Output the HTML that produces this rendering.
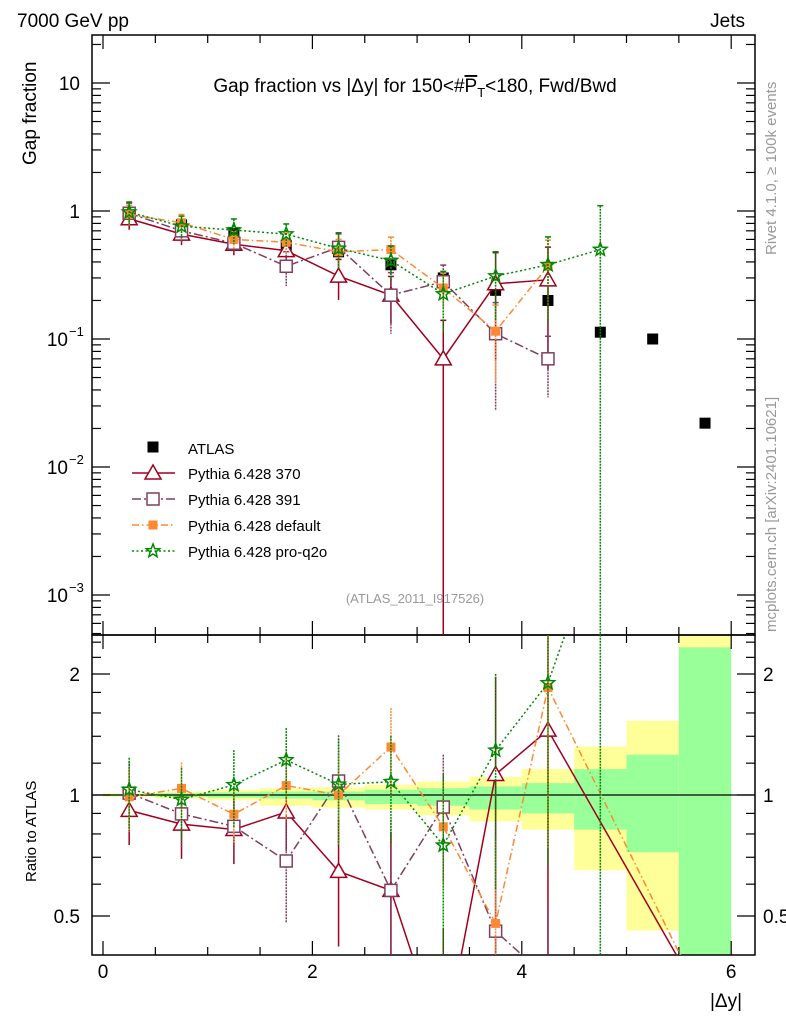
<!DOCTYPE html>
<html><head><meta charset="utf-8"><style>
html,body{margin:0;background:#fff;width:786px;height:1024px;overflow:hidden;}
svg{display:block;font-family:"Liberation Sans",sans-serif;}
</style></head><body>
<svg id="c" width="786" height="1024" viewBox="0 0 786 1024" xmlns="http://www.w3.org/2000/svg">
<defs>
<clipPath id="cm"><rect x="92" y="35" width="663" height="600"/></clipPath>
<clipPath id="cr"><rect x="92" y="635" width="663" height="320"/></clipPath>
</defs>
<g id="bands" clip-path="url(#cr)"></g>
<g id="axes"></g>
<g id="mainMarks" clip-path="url(#cm)"></g>
<g id="ratioMarks" clip-path="url(#cr)"></g>
<text x="17" y="27" font-size="19">7000 GeV pp</text>
<text x="745" y="27" font-size="19" text-anchor="end">Jets</text>
<text x="415" y="92" font-size="19" text-anchor="middle">Gap fraction vs |Δy| for 150&lt;#<tspan text-decoration="overline">P</tspan><tspan font-size="13" dy="5">T</tspan><tspan dy="-5">&lt;180, Fwd/Bwd</tspan></text>
<text x="415" y="603" font-size="13" fill="#999" text-anchor="middle">(ATLAS_2011_I917526)</text>
<text transform="translate(36,165) rotate(-90)" font-size="19">Gap fraction</text>
<text transform="translate(36,882) rotate(-90)" font-size="15">Ratio to ATLAS</text>
<text x="742" y="1007" font-size="19" text-anchor="end">|Δy|</text>
<text transform="translate(776,255) rotate(-90)" font-size="15" fill="#999">Rivet 4.1.0, ≥ 100k events</text>
<text transform="translate(776,632) rotate(-90)" font-size="15" fill="#999">mcplots.cern.ch [arXiv:2401.10621]</text>
<g id="legend"></g>
</svg>
<script>
const xCenters=[0.25,0.75,1.25,1.75,2.25,2.75,3.25,3.75,4.25,4.75,5.25,5.75];
const atlasVals=[0.95,0.78,0.67,0.54,0.48,0.38,0.30,0.24,0.20,0.113,0.10,0.022];
const p370=[0.87,0.66,0.55,0.49,0.31,0.22,0.07,0.27,0.29];
const p370Err=[0.18,0.18,0.18,0.2,0.35,0.4,1.0,0.75,0.8];
const p370RatioTail=[0.3];
const p391=[0.96,0.70,0.56,0.37,0.52,0.22,0.28,0.11,0.07];
const p391Err=[0.2,0.18,0.15,0.3,0.3,0.5,0.35,0.75,0.5];
const pDef=[0.94,0.81,0.60,0.57,0.48,0.50,0.25,0.115,0.37];
const pDefErr=[0.18,0.16,0.15,0.18,0.25,0.25,0.3,0.6,0.6];
const pDefRatioTail=[0.3];
const pQ2o=[0.98,0.76,0.71,0.66,0.51,0.41,0.225,0.31,0.38,0.50];
const pQ2oErr=[0.2,0.2,0.22,0.2,0.3,0.3,0.5,0.55,0.65,1.2];
const binEdges=[0,0.5,1,1.5,2,2.5,3,3.5,4,4.5,5,5.5,6];
const yelUp=[1.01,1.02,1.03,1.04,1.045,1.06,1.08,1.11,1.16,1.32,1.53,3.0];
const yelDn=[0.99,0.98,0.97,0.94,0.93,0.92,0.89,0.86,0.82,0.65,0.46,0.3];
const grnUp=[1.005,1.01,1.015,1.02,1.02,1.03,1.04,1.05,1.07,1.16,1.26,2.33];
const grnDn=[0.995,0.99,0.985,0.98,0.97,0.95,0.94,0.92,0.90,0.82,0.72,0.3];
const xTicks=[0,2,4,6];

const NS='http://www.w3.org/2000/svg';
const X=v=>103+104.7*v;
const Y=v=>211-128*Math.log10(v);
const R=r=>795-121*Math.log2(r);
function mk(tag,attrs,parent){const e=document.createElementNS(NS,tag);for(const k in attrs)e.setAttribute(k,attrs[k]);parent.appendChild(e);return e;}
const axes=document.getElementById('axes'),bands=document.getElementById('bands');
const mm=document.getElementById('mainMarks'),rm=document.getElementById('ratioMarks'),lg=document.getElementById('legend');

for(let i=0;i<yelUp.length;i++){
  const x0=X(binEdges[i]),x1=X(binEdges[i+1]);
  const y=mk('rect',{x:x0,y:R(yelUp[i]),width:x1-x0,height:R(yelDn[i])-R(yelUp[i]),fill:'#ffff99'},bands);
  
  
  const g=mk('rect',{x:x0,y:R(grnUp[i]),width:x1-x0,height:R(grnDn[i])-R(grnUp[i]),fill:'#99ff99'},bands);
  
  
}
mk('line',{x1:92,x2:755,y1:R(1),y2:R(1),stroke:'#000','stroke-width':1.2},bands);

mk('rect',{x:92,y:35,width:663,height:600,fill:'none',stroke:'#000','stroke-width':1.5},axes);
mk('rect',{x:92,y:635,width:663,height:320,fill:'none',stroke:'#000','stroke-width':1.5},axes);
for(let v=0;v<=6.01;v+=0.5){
  const big=Math.abs(v-Math.round(v/2)*2)<0.01;
  const L=big?14:8;
  [[635,-1],[955,-1],[35,1],[635,1]].forEach(([yy,d])=>mk('line',{x1:X(v),x2:X(v),y1:yy,y2:yy+d*L,stroke:'#000','stroke-width':1.2},axes));
}
xTicks.forEach(v=>{const t=mk('text',{x:X(v),y:978,'font-size':19,'text-anchor':'middle'},axes);t.textContent=v;

});
for(let e=-4;e<=1;e++){for(let m=1;m<10;m++){const v=m*Math.pow(10,e);const y=Y(v);if(y<35||y>635)continue;
 const L=m==1?18:9;
 mk('line',{x1:92,x2:92+L,y1:y,y2:y,stroke:'#000','stroke-width':1.2},axes);
 mk('line',{x1:755,x2:755-L,y1:y,y2:y,stroke:'#000','stroke-width':1.2},axes);}}
const mainLabels=[[10,'10',null],[1,'1',null],[0.1,'10','−1'],[0.01,'10','−2'],[0.001,'10','−3']];
mainLabels.forEach(([v,b,s])=>{const t=mk('text',{x:s?68:80,y:Y(v)+7,'font-size':19,'text-anchor':'end'},axes);t.textContent=b;
 
 
 if(s){const u=mk('text',{x:69,y:Y(v)-3,'font-size':13},axes);u.textContent=s;}});
[0.5,0.6,0.7,0.8,0.9,1,1.2,1.4,1.6,1.8,2,2.2,2.4].forEach(r=>{const y=R(r);if(y<635||y>955)return;const big=(r==0.5||r==1||r==2);const L=big?18:9;
 mk('line',{x1:92,x2:92+L,y1:y,y2:y,stroke:'#000','stroke-width':1.2},axes);
 mk('line',{x1:755,x2:755-L,y1:y,y2:y,stroke:'#000','stroke-width':1.2},axes);});
[[2,'2'],[1,'1'],[0.5,'0.5']].forEach(([r,s])=>{
 const a=mk('text',{x:80,y:R(r)+7,'font-size':19,'text-anchor':'end'},axes);a.textContent=s;
 
 
 const b=mk('text',{x:763,y:R(r)+7,'font-size':19},axes);b.textContent=s;
 
 });

function marker(type,x,y,col,parent){
 if(type=='sq') return mk('rect',{x:x-5.5,y:y-5.5,width:11,height:11,fill:'#000'},parent);
 if(type=='tri') return mk('polygon',{points:`${x},${y-8} ${x-8},${y+6} ${x+8},${y+6}`,fill:'#fff',stroke:col,'stroke-width':1.5},parent);
 if(type=='osq') return mk('rect',{x:x-6,y:y-6,width:12,height:12,fill:'#fff',stroke:col,'stroke-width':1.5},parent);
 if(type=='fsq') return mk('rect',{x:x-4.5,y:y-4.5,width:9,height:9,fill:col},parent);
 if(type=='star'){let p=[];for(let i=0;i<10;i++){const r=i%2?3:7,a=-Math.PI/2+i*Math.PI/5;p.push((x+r*Math.cos(a)).toFixed(1)+','+(y+r*Math.sin(a)).toFixed(1));}
  return mk('polygon',{points:p.join(' '),fill:'none',stroke:col,'stroke-width':1.5},parent);}
}
atlasVals.forEach((v,i)=>{const m=marker('sq',X(xCenters[i]),Y(v),'#000',mm);
 
 });
const series=[
 {name:'pythia-370',vals:p370,err:p370Err,tail:p370RatioTail,col:'#a0001e',dash:'',mk:'tri',label:'Pythia 6.428 370'},
 {name:'pythia-391',vals:p391,err:p391Err,tail:[],col:'#7f3f5f',dash:'9,3,2,3',mk:'osq',label:'Pythia 6.428 391'},
 {name:'pythia-default',vals:pDef,err:pDefErr,tail:pDefRatioTail,col:'#ff8833',dash:'7,3,1.5,3',mk:'fsq',label:'Pythia 6.428 default'},
 {name:'pythia-pro-q2o',vals:pQ2o,err:pQ2oErr,tail:[],col:'#008800',dash:'2,2.5',mk:'star',label:'Pythia 6.428 pro-q2o'}];
series.forEach(s=>{
 const mp=[],rp=[];
 s.vals.forEach((v,i)=>{const x=X(xCenters[i]);mp.push(x+','+Y(v));rp.push(x+','+R(v/atlasVals[i]));});
 s.tail.forEach((r,k)=>{rp.push(X(xCenters[xCenters.length-s.tail.length+k])+','+R(r));});
 const a=mk('polyline',{points:mp.join(' '),fill:'none',stroke:s.col,'stroke-width':1.5,'stroke-dasharray':s.dash},mm);
 
 
 const b=mk('polyline',{points:rp.join(' '),fill:'none',stroke:s.col,'stroke-width':1.5,'stroke-dasharray':s.dash},rm);
 
 
 s.vals.forEach((v,i)=>{const x=X(xCenters[i]);const e=s.err[i];
  const lo=Math.max(v*(1-e),1e-6),hi=v*(1+e);
  mk('line',{x1:x,x2:x,y1:Y(hi),y2:Y(lo),stroke:s.col,'stroke-width':1.5,'stroke-dasharray':s.dash?'2,1':''},mm);
  mk('line',{x1:x-3,x2:x+3,y1:Y(hi),y2:Y(hi),stroke:s.col,'stroke-width':1.5},mm);
  const r=v/atlasVals[i];
  mk('line',{x1:x,x2:x,y1:R(r*(1+e)),y2:R(Math.max(r*(1-e),1e-6)),stroke:s.col,'stroke-width':1.5,'stroke-dasharray':s.dash?'2,1':''},rm);
  const m1=marker(s.mk,x,Y(v),s.col,mm);
  
  
  const m2=marker(s.mk,x,R(r),s.col,rm);
  
  
 });
});
marker('sq',153,447,'#000',lg);
const lt=mk('text',{x:188,y:454,'font-size':15},lg);lt.textContent='ATLAS';


series.forEach((s,i)=>{const y=473+i*26;
 mk('line',{x1:132,x2:175,y1:y,y2:y,stroke:s.col,'stroke-width':1.5,'stroke-dasharray':s.dash},lg);
 marker(s.mk,153,y,s.col,lg);
 const t=mk('text',{x:188,y:y+6,'font-size':15},lg);t.textContent=s.label;
 
 });
</script>
</body></html>
